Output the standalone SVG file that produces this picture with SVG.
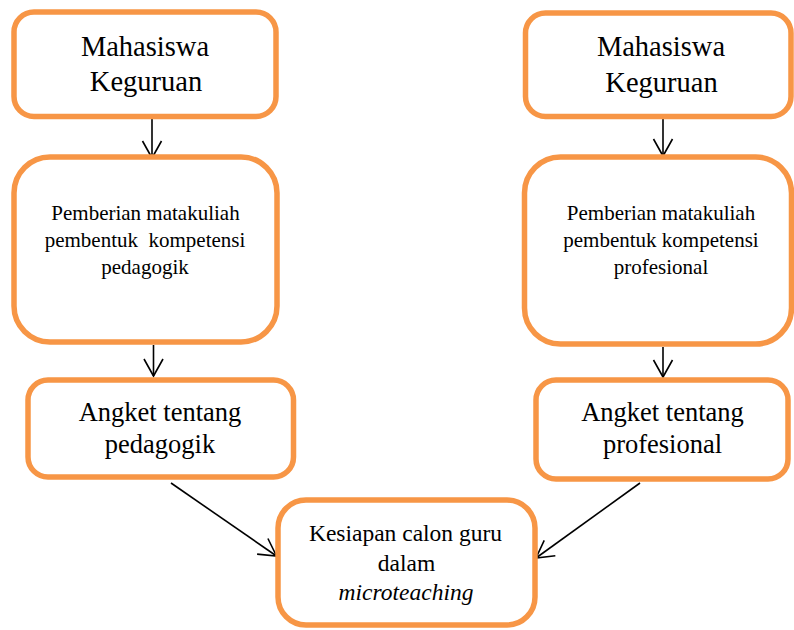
<svg xmlns="http://www.w3.org/2000/svg" width="794" height="630" viewBox="0 0 794 630">
<defs>
<style>
.box{fill:#fff;stroke:#F79646;stroke-width:5.5}
.t{font-family:"Liberation Serif","Times New Roman",serif;fill:#000;text-anchor:middle}
.big{font-size:28.5px}
.mid{font-size:26.5px}
.sm{font-size:21px}
.ctr{font-size:23.5px}
.conn{stroke:#000;stroke-width:1.6;fill:none;marker-end:url(#ah)}
</style>
<marker id="ah" markerUnits="userSpaceOnUse" markerWidth="24" markerHeight="24" viewBox="-20 -12 22 24" refX="0" refY="0" orient="auto">
<path d="M-17,-9.5 L0,0 L-17,9.5" fill="none" stroke="#000" stroke-width="1.6"/>
</marker>
</defs>
<rect width="794" height="630" fill="#fff"/>
<g id="connectors">
<line class="conn" x1="152" y1="119" x2="152" y2="158"/>
<line class="conn" x1="663" y1="119" x2="663" y2="156"/>
<line class="conn" x1="153.5" y1="345" x2="153.5" y2="376"/>
<line class="conn" x1="663" y1="347" x2="663" y2="377"/>
<line class="conn" x1="171" y1="483" x2="276.5" y2="556"/>
<line class="conn" x1="640" y1="483" x2="536" y2="558"/>
</g>
<g id="mahasiswa-left">
<rect class="box" x="14" y="12" width="262" height="104.5" rx="20"/>
<text class="t big" x="145" y="55.5">Mahasiswa</text>
<text class="t big" x="146" y="91">Keguruan</text>
</g>
<g id="mahasiswa-right">
<rect class="box" x="525.5" y="13" width="265.5" height="103.5" rx="20"/>
<text class="t big" x="661" y="55.5">Mahasiswa</text>
<text class="t big" x="661.5" y="91.5">Keguruan</text>
</g>
<g id="pemberian-left">
<rect class="box" x="14" y="157" width="263" height="185" rx="36"/>
<text class="t sm" x="145.5" y="220">Pemberian matakuliah</text>
<text class="t sm" x="145" y="247">pembentuk&#160; kompetensi</text>
<text class="t sm" x="145" y="274">pedagogik</text>
</g>
<g id="pemberian-right">
<rect class="box" x="524.5" y="157" width="267" height="187" rx="36"/>
<text class="t sm" x="661" y="220">Pemberian matakuliah</text>
<text class="t sm" x="661" y="247">pembentuk kompetensi</text>
<text class="t sm" x="661" y="274">profesional</text>
</g>
<g id="angket-left">
<rect class="box" x="28" y="380" width="265.5" height="97" rx="20"/>
<text class="t mid" x="160" y="421">Angket tentang</text>
<text class="t mid" x="160" y="453">pedagogik</text>
</g>
<g id="angket-right">
<rect class="box" x="536" y="380" width="252" height="99" rx="20"/>
<text class="t mid" x="662.5" y="421">Angket tentang</text>
<text class="t mid" x="662.5" y="453">profesional</text>
</g>
<g id="kesiapan">
<rect class="box" x="278" y="500" width="257" height="125" rx="28"/>
<text class="t ctr" x="405.5" y="541">Kesiapan calon guru</text>
<text class="t ctr" x="406.5" y="571">dalam</text>
<text class="t ctr" x="406" y="599.5" font-style="italic">microteaching</text>
</g>
</svg>
